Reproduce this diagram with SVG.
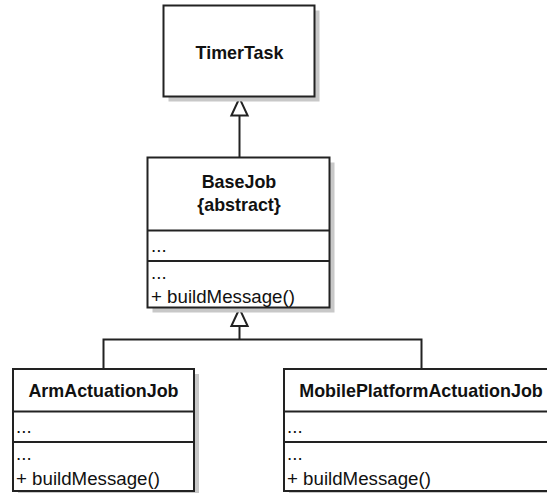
<svg xmlns="http://www.w3.org/2000/svg" width="547" height="493" viewBox="0 0 547 493">
  <defs>
    <style>
      .shadow { fill: #c8c8c8; }
      .box { fill: #ffffff; stroke: #222222; stroke-width: 2; }
      .div { stroke: #222222; stroke-width: 2; }
      .title { font-family: "Liberation Sans", Arial, sans-serif; font-weight: bold; font-size: 17.9px; fill: #111111; text-anchor: middle; }
      .member { font-family: "Liberation Sans", Arial, sans-serif; font-size: 18.7px; fill: #111111; }
      .edge { fill: none; stroke: #222222; stroke-width: 2; }
    </style>
    <!-- hollow triangle for generalization -->
    <marker id="inherit" markerUnits="userSpaceOnUse" markerWidth="20" markerHeight="20" refX="15" refY="7" orient="auto" viewBox="0 0 16 14" overflow="visible">
      <path d="M15,7 L1,0.5 L1,13.5 Z" fill="#ffffff" stroke="#222222" stroke-width="1.6"/>
    </marker>
  </defs>

  <rect width="547" height="493" fill="#ffffff"/>

  <!-- connectors -->
  <g id="connectors">
    <path class="edge" d="M239.5,157.5 V98" marker-end="url(#inherit)"/>
    <path class="edge" d="M103.5,369 V339.5 H421.5 V369"/>
    <path class="edge" d="M239.5,339.5 V308.5" marker-end="url(#inherit)"/>
  </g>

  <g id="TimerTask">
    <rect class="shadow" x="168.5" y="10.5" width="151" height="91"/>
    <rect class="box" x="163.5" y="5.5" width="151" height="91"/>
    <text class="title" x="239.5" y="59">TimerTask</text>
  </g>

  <g id="BaseJob">
    <rect class="shadow" x="152.5" y="162.5" width="182" height="150"/>
    <rect class="box" x="147.5" y="157.5" width="182" height="150"/>
    <line class="div" x1="147.5" y1="230.5" x2="329.5" y2="230.5"/>
    <line class="div" x1="147.5" y1="261" x2="329.5" y2="261"/>
    <text class="title" x="239" y="188">BaseJob</text>
    <text class="title" x="239" y="211">{abstract}</text>
    <text class="member" x="151" y="252">...</text>
    <text class="member" x="151" y="279">...</text>
    <text class="member" x="151" y="303">+ buildMessage()</text>
  </g>

  <g id="ArmActuationJob">
    <rect class="shadow" x="18" y="374" width="181" height="122"/>
    <rect class="box" x="13" y="369" width="181" height="122"/>
    <line class="div" x1="13" y1="411.5" x2="194" y2="411.5"/>
    <line class="div" x1="13" y1="442" x2="194" y2="442"/>
    <text class="title" x="103.5" y="397">ArmActuationJob</text>
    <text class="member" x="16" y="433">...</text>
    <text class="member" x="16" y="460">...</text>
    <text class="member" x="16" y="485">+ buildMessage()</text>
  </g>

  <g id="MobilePlatformActuationJob">
    <rect class="shadow" x="289" y="374" width="275" height="122"/>
    <rect class="box" x="284" y="369" width="275" height="122"/>
    <line class="div" x1="284" y1="411.5" x2="559" y2="411.5"/>
    <line class="div" x1="284" y1="442" x2="559" y2="442"/>
    <text class="title" x="421" y="397">MobilePlatformActuationJob</text>
    <text class="member" x="287" y="433">...</text>
    <text class="member" x="287" y="460">...</text>
    <text class="member" x="287" y="485">+ buildMessage()</text>
  </g>
</svg>
